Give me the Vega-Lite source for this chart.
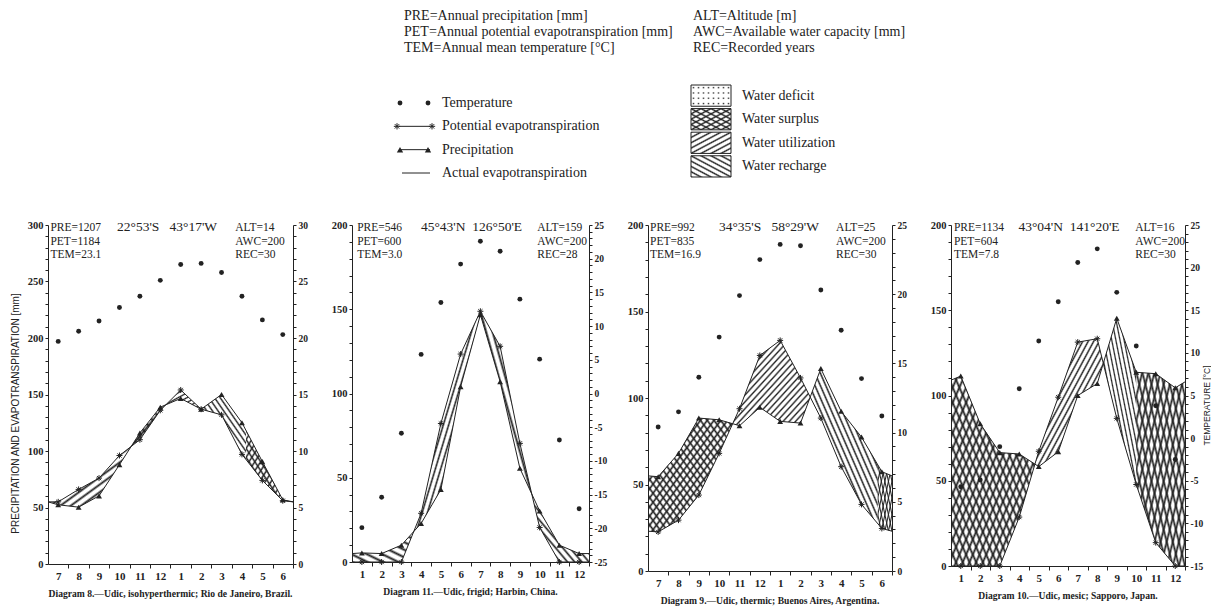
{
"$schema": "https://vega.github.io/schema/vega-lite/v6.json",
"padding": {"left": 9, "top": 0, "right": 0, "bottom": 0},
"background": "white",
"params": [
{"name":"hU8","value":{"gradient":"linear","x1":0,"y1":0,"x2":1,"y2":1,"stops":[{"offset":0,"color":"#222"},{"offset":0.0375,"color":"rgba(34,34,34,0)"},{"offset":0.0875,"color":"rgba(34,34,34,0)"},{"offset":0.125,"color":"#222"},{"offset":0.1625,"color":"rgba(34,34,34,0)"},{"offset":0.2125,"color":"rgba(34,34,34,0)"},{"offset":0.25,"color":"#222"},{"offset":0.2875,"color":"rgba(34,34,34,0)"},{"offset":0.3375,"color":"rgba(34,34,34,0)"},{"offset":0.375,"color":"#222"},{"offset":0.4125,"color":"rgba(34,34,34,0)"},{"offset":0.4625,"color":"rgba(34,34,34,0)"},{"offset":0.5,"color":"#222"},{"offset":0.5375,"color":"rgba(34,34,34,0)"},{"offset":0.5875,"color":"rgba(34,34,34,0)"},{"offset":0.625,"color":"#222"},{"offset":0.6625,"color":"rgba(34,34,34,0)"},{"offset":0.7125,"color":"rgba(34,34,34,0)"},{"offset":0.75,"color":"#222"},{"offset":0.7875,"color":"rgba(34,34,34,0)"},{"offset":0.8375,"color":"rgba(34,34,34,0)"},{"offset":0.875,"color":"#222"},{"offset":0.9125,"color":"rgba(34,34,34,0)"},{"offset":0.9625,"color":"rgba(34,34,34,0)"},{"offset":1,"color":"#222"}]}},
{"name":"hR8","value":{"gradient":"linear","x1":1,"y1":0,"x2":0,"y2":1,"stops":[{"offset":0,"color":"#222"},{"offset":0.0375,"color":"rgba(34,34,34,0)"},{"offset":0.0875,"color":"rgba(34,34,34,0)"},{"offset":0.125,"color":"#222"},{"offset":0.1625,"color":"rgba(34,34,34,0)"},{"offset":0.2125,"color":"rgba(34,34,34,0)"},{"offset":0.25,"color":"#222"},{"offset":0.2875,"color":"rgba(34,34,34,0)"},{"offset":0.3375,"color":"rgba(34,34,34,0)"},{"offset":0.375,"color":"#222"},{"offset":0.4125,"color":"rgba(34,34,34,0)"},{"offset":0.4625,"color":"rgba(34,34,34,0)"},{"offset":0.5,"color":"#222"},{"offset":0.5375,"color":"rgba(34,34,34,0)"},{"offset":0.5875,"color":"rgba(34,34,34,0)"},{"offset":0.625,"color":"#222"},{"offset":0.6625,"color":"rgba(34,34,34,0)"},{"offset":0.7125,"color":"rgba(34,34,34,0)"},{"offset":0.75,"color":"#222"},{"offset":0.7875,"color":"rgba(34,34,34,0)"},{"offset":0.8375,"color":"rgba(34,34,34,0)"},{"offset":0.875,"color":"#222"},{"offset":0.9125,"color":"rgba(34,34,34,0)"},{"offset":0.9625,"color":"rgba(34,34,34,0)"},{"offset":1,"color":"#222"}]}},
{"name":"hU16","value":{"gradient":"linear","x1":0,"y1":0,"x2":1,"y2":1,"stops":[{"offset":0,"color":"#222"},{"offset":0.01875,"color":"rgba(34,34,34,0)"},{"offset":0.04375,"color":"rgba(34,34,34,0)"},{"offset":0.0625,"color":"#222"},{"offset":0.08125,"color":"rgba(34,34,34,0)"},{"offset":0.10625,"color":"rgba(34,34,34,0)"},{"offset":0.125,"color":"#222"},{"offset":0.14375,"color":"rgba(34,34,34,0)"},{"offset":0.16875,"color":"rgba(34,34,34,0)"},{"offset":0.1875,"color":"#222"},{"offset":0.20625,"color":"rgba(34,34,34,0)"},{"offset":0.23125,"color":"rgba(34,34,34,0)"},{"offset":0.25,"color":"#222"},{"offset":0.26875,"color":"rgba(34,34,34,0)"},{"offset":0.29375,"color":"rgba(34,34,34,0)"},{"offset":0.3125,"color":"#222"},{"offset":0.33125,"color":"rgba(34,34,34,0)"},{"offset":0.35625,"color":"rgba(34,34,34,0)"},{"offset":0.375,"color":"#222"},{"offset":0.39375,"color":"rgba(34,34,34,0)"},{"offset":0.41875,"color":"rgba(34,34,34,0)"},{"offset":0.4375,"color":"#222"},{"offset":0.45625,"color":"rgba(34,34,34,0)"},{"offset":0.48125,"color":"rgba(34,34,34,0)"},{"offset":0.5,"color":"#222"},{"offset":0.51875,"color":"rgba(34,34,34,0)"},{"offset":0.54375,"color":"rgba(34,34,34,0)"},{"offset":0.5625,"color":"#222"},{"offset":0.58125,"color":"rgba(34,34,34,0)"},{"offset":0.60625,"color":"rgba(34,34,34,0)"},{"offset":0.625,"color":"#222"},{"offset":0.64375,"color":"rgba(34,34,34,0)"},{"offset":0.66875,"color":"rgba(34,34,34,0)"},{"offset":0.6875,"color":"#222"},{"offset":0.70625,"color":"rgba(34,34,34,0)"},{"offset":0.73125,"color":"rgba(34,34,34,0)"},{"offset":0.75,"color":"#222"},{"offset":0.76875,"color":"rgba(34,34,34,0)"},{"offset":0.79375,"color":"rgba(34,34,34,0)"},{"offset":0.8125,"color":"#222"},{"offset":0.83125,"color":"rgba(34,34,34,0)"},{"offset":0.85625,"color":"rgba(34,34,34,0)"},{"offset":0.875,"color":"#222"},{"offset":0.89375,"color":"rgba(34,34,34,0)"},{"offset":0.91875,"color":"rgba(34,34,34,0)"},{"offset":0.9375,"color":"#222"},{"offset":0.95625,"color":"rgba(34,34,34,0)"},{"offset":0.98125,"color":"rgba(34,34,34,0)"},{"offset":1,"color":"#222"}]}},
{"name":"hR16","value":{"gradient":"linear","x1":1,"y1":0,"x2":0,"y2":1,"stops":[{"offset":0,"color":"#222"},{"offset":0.01875,"color":"rgba(34,34,34,0)"},{"offset":0.04375,"color":"rgba(34,34,34,0)"},{"offset":0.0625,"color":"#222"},{"offset":0.08125,"color":"rgba(34,34,34,0)"},{"offset":0.10625,"color":"rgba(34,34,34,0)"},{"offset":0.125,"color":"#222"},{"offset":0.14375,"color":"rgba(34,34,34,0)"},{"offset":0.16875,"color":"rgba(34,34,34,0)"},{"offset":0.1875,"color":"#222"},{"offset":0.20625,"color":"rgba(34,34,34,0)"},{"offset":0.23125,"color":"rgba(34,34,34,0)"},{"offset":0.25,"color":"#222"},{"offset":0.26875,"color":"rgba(34,34,34,0)"},{"offset":0.29375,"color":"rgba(34,34,34,0)"},{"offset":0.3125,"color":"#222"},{"offset":0.33125,"color":"rgba(34,34,34,0)"},{"offset":0.35625,"color":"rgba(34,34,34,0)"},{"offset":0.375,"color":"#222"},{"offset":0.39375,"color":"rgba(34,34,34,0)"},{"offset":0.41875,"color":"rgba(34,34,34,0)"},{"offset":0.4375,"color":"#222"},{"offset":0.45625,"color":"rgba(34,34,34,0)"},{"offset":0.48125,"color":"rgba(34,34,34,0)"},{"offset":0.5,"color":"#222"},{"offset":0.51875,"color":"rgba(34,34,34,0)"},{"offset":0.54375,"color":"rgba(34,34,34,0)"},{"offset":0.5625,"color":"#222"},{"offset":0.58125,"color":"rgba(34,34,34,0)"},{"offset":0.60625,"color":"rgba(34,34,34,0)"},{"offset":0.625,"color":"#222"},{"offset":0.64375,"color":"rgba(34,34,34,0)"},{"offset":0.66875,"color":"rgba(34,34,34,0)"},{"offset":0.6875,"color":"#222"},{"offset":0.70625,"color":"rgba(34,34,34,0)"},{"offset":0.73125,"color":"rgba(34,34,34,0)"},{"offset":0.75,"color":"#222"},{"offset":0.76875,"color":"rgba(34,34,34,0)"},{"offset":0.79375,"color":"rgba(34,34,34,0)"},{"offset":0.8125,"color":"#222"},{"offset":0.83125,"color":"rgba(34,34,34,0)"},{"offset":0.85625,"color":"rgba(34,34,34,0)"},{"offset":0.875,"color":"#222"},{"offset":0.89375,"color":"rgba(34,34,34,0)"},{"offset":0.91875,"color":"rgba(34,34,34,0)"},{"offset":0.9375,"color":"#222"},{"offset":0.95625,"color":"rgba(34,34,34,0)"},{"offset":0.98125,"color":"rgba(34,34,34,0)"},{"offset":1,"color":"#222"}]}},
{"name":"hU25","value":{"gradient":"linear","x1":0,"y1":0,"x2":1,"y2":1,"stops":[{"offset":0,"color":"#222"},{"offset":0.012,"color":"rgba(34,34,34,0)"},{"offset":0.028,"color":"rgba(34,34,34,0)"},{"offset":0.04,"color":"#222"},{"offset":0.052,"color":"rgba(34,34,34,0)"},{"offset":0.068,"color":"rgba(34,34,34,0)"},{"offset":0.08,"color":"#222"},{"offset":0.092,"color":"rgba(34,34,34,0)"},{"offset":0.108,"color":"rgba(34,34,34,0)"},{"offset":0.12,"color":"#222"},{"offset":0.132,"color":"rgba(34,34,34,0)"},{"offset":0.148,"color":"rgba(34,34,34,0)"},{"offset":0.16,"color":"#222"},{"offset":0.172,"color":"rgba(34,34,34,0)"},{"offset":0.188,"color":"rgba(34,34,34,0)"},{"offset":0.2,"color":"#222"},{"offset":0.212,"color":"rgba(34,34,34,0)"},{"offset":0.228,"color":"rgba(34,34,34,0)"},{"offset":0.24,"color":"#222"},{"offset":0.252,"color":"rgba(34,34,34,0)"},{"offset":0.268,"color":"rgba(34,34,34,0)"},{"offset":0.28,"color":"#222"},{"offset":0.292,"color":"rgba(34,34,34,0)"},{"offset":0.308,"color":"rgba(34,34,34,0)"},{"offset":0.32,"color":"#222"},{"offset":0.332,"color":"rgba(34,34,34,0)"},{"offset":0.348,"color":"rgba(34,34,34,0)"},{"offset":0.36,"color":"#222"},{"offset":0.372,"color":"rgba(34,34,34,0)"},{"offset":0.388,"color":"rgba(34,34,34,0)"},{"offset":0.4,"color":"#222"},{"offset":0.412,"color":"rgba(34,34,34,0)"},{"offset":0.428,"color":"rgba(34,34,34,0)"},{"offset":0.44,"color":"#222"},{"offset":0.452,"color":"rgba(34,34,34,0)"},{"offset":0.468,"color":"rgba(34,34,34,0)"},{"offset":0.48,"color":"#222"},{"offset":0.492,"color":"rgba(34,34,34,0)"},{"offset":0.508,"color":"rgba(34,34,34,0)"},{"offset":0.52,"color":"#222"},{"offset":0.532,"color":"rgba(34,34,34,0)"},{"offset":0.548,"color":"rgba(34,34,34,0)"},{"offset":0.56,"color":"#222"},{"offset":0.572,"color":"rgba(34,34,34,0)"},{"offset":0.588,"color":"rgba(34,34,34,0)"},{"offset":0.6,"color":"#222"},{"offset":0.612,"color":"rgba(34,34,34,0)"},{"offset":0.628,"color":"rgba(34,34,34,0)"},{"offset":0.64,"color":"#222"},{"offset":0.652,"color":"rgba(34,34,34,0)"},{"offset":0.668,"color":"rgba(34,34,34,0)"},{"offset":0.68,"color":"#222"},{"offset":0.692,"color":"rgba(34,34,34,0)"},{"offset":0.708,"color":"rgba(34,34,34,0)"},{"offset":0.72,"color":"#222"},{"offset":0.732,"color":"rgba(34,34,34,0)"},{"offset":0.748,"color":"rgba(34,34,34,0)"},{"offset":0.76,"color":"#222"},{"offset":0.772,"color":"rgba(34,34,34,0)"},{"offset":0.788,"color":"rgba(34,34,34,0)"},{"offset":0.8,"color":"#222"},{"offset":0.812,"color":"rgba(34,34,34,0)"},{"offset":0.828,"color":"rgba(34,34,34,0)"},{"offset":0.84,"color":"#222"},{"offset":0.852,"color":"rgba(34,34,34,0)"},{"offset":0.868,"color":"rgba(34,34,34,0)"},{"offset":0.88,"color":"#222"},{"offset":0.892,"color":"rgba(34,34,34,0)"},{"offset":0.908,"color":"rgba(34,34,34,0)"},{"offset":0.92,"color":"#222"},{"offset":0.932,"color":"rgba(34,34,34,0)"},{"offset":0.948,"color":"rgba(34,34,34,0)"},{"offset":0.96,"color":"#222"},{"offset":0.972,"color":"rgba(34,34,34,0)"},{"offset":0.988,"color":"rgba(34,34,34,0)"},{"offset":1,"color":"#222"}]}},
{"name":"hR25","value":{"gradient":"linear","x1":1,"y1":0,"x2":0,"y2":1,"stops":[{"offset":0,"color":"#222"},{"offset":0.012,"color":"rgba(34,34,34,0)"},{"offset":0.028,"color":"rgba(34,34,34,0)"},{"offset":0.04,"color":"#222"},{"offset":0.052,"color":"rgba(34,34,34,0)"},{"offset":0.068,"color":"rgba(34,34,34,0)"},{"offset":0.08,"color":"#222"},{"offset":0.092,"color":"rgba(34,34,34,0)"},{"offset":0.108,"color":"rgba(34,34,34,0)"},{"offset":0.12,"color":"#222"},{"offset":0.132,"color":"rgba(34,34,34,0)"},{"offset":0.148,"color":"rgba(34,34,34,0)"},{"offset":0.16,"color":"#222"},{"offset":0.172,"color":"rgba(34,34,34,0)"},{"offset":0.188,"color":"rgba(34,34,34,0)"},{"offset":0.2,"color":"#222"},{"offset":0.212,"color":"rgba(34,34,34,0)"},{"offset":0.228,"color":"rgba(34,34,34,0)"},{"offset":0.24,"color":"#222"},{"offset":0.252,"color":"rgba(34,34,34,0)"},{"offset":0.268,"color":"rgba(34,34,34,0)"},{"offset":0.28,"color":"#222"},{"offset":0.292,"color":"rgba(34,34,34,0)"},{"offset":0.308,"color":"rgba(34,34,34,0)"},{"offset":0.32,"color":"#222"},{"offset":0.332,"color":"rgba(34,34,34,0)"},{"offset":0.348,"color":"rgba(34,34,34,0)"},{"offset":0.36,"color":"#222"},{"offset":0.372,"color":"rgba(34,34,34,0)"},{"offset":0.388,"color":"rgba(34,34,34,0)"},{"offset":0.4,"color":"#222"},{"offset":0.412,"color":"rgba(34,34,34,0)"},{"offset":0.428,"color":"rgba(34,34,34,0)"},{"offset":0.44,"color":"#222"},{"offset":0.452,"color":"rgba(34,34,34,0)"},{"offset":0.468,"color":"rgba(34,34,34,0)"},{"offset":0.48,"color":"#222"},{"offset":0.492,"color":"rgba(34,34,34,0)"},{"offset":0.508,"color":"rgba(34,34,34,0)"},{"offset":0.52,"color":"#222"},{"offset":0.532,"color":"rgba(34,34,34,0)"},{"offset":0.548,"color":"rgba(34,34,34,0)"},{"offset":0.56,"color":"#222"},{"offset":0.572,"color":"rgba(34,34,34,0)"},{"offset":0.588,"color":"rgba(34,34,34,0)"},{"offset":0.6,"color":"#222"},{"offset":0.612,"color":"rgba(34,34,34,0)"},{"offset":0.628,"color":"rgba(34,34,34,0)"},{"offset":0.64,"color":"#222"},{"offset":0.652,"color":"rgba(34,34,34,0)"},{"offset":0.668,"color":"rgba(34,34,34,0)"},{"offset":0.68,"color":"#222"},{"offset":0.692,"color":"rgba(34,34,34,0)"},{"offset":0.708,"color":"rgba(34,34,34,0)"},{"offset":0.72,"color":"#222"},{"offset":0.732,"color":"rgba(34,34,34,0)"},{"offset":0.748,"color":"rgba(34,34,34,0)"},{"offset":0.76,"color":"#222"},{"offset":0.772,"color":"rgba(34,34,34,0)"},{"offset":0.788,"color":"rgba(34,34,34,0)"},{"offset":0.8,"color":"#222"},{"offset":0.812,"color":"rgba(34,34,34,0)"},{"offset":0.828,"color":"rgba(34,34,34,0)"},{"offset":0.84,"color":"#222"},{"offset":0.852,"color":"rgba(34,34,34,0)"},{"offset":0.868,"color":"rgba(34,34,34,0)"},{"offset":0.88,"color":"#222"},{"offset":0.892,"color":"rgba(34,34,34,0)"},{"offset":0.908,"color":"rgba(34,34,34,0)"},{"offset":0.92,"color":"#222"},{"offset":0.932,"color":"rgba(34,34,34,0)"},{"offset":0.948,"color":"rgba(34,34,34,0)"},{"offset":0.96,"color":"#222"},{"offset":0.972,"color":"rgba(34,34,34,0)"},{"offset":0.988,"color":"rgba(34,34,34,0)"},{"offset":1,"color":"#222"}]}},
{"name":"dH","value":{"gradient":"linear","x1":0,"y1":0,"x2":0,"y2":1,"stops":[{"offset":0,"color":"#fff"},{"offset":0.065,"color":"#fff"},{"offset":0.125,"color":"rgba(255,255,255,0)"},{"offset":0.185,"color":"#fff"},{"offset":0.315,"color":"#fff"},{"offset":0.375,"color":"rgba(255,255,255,0)"},{"offset":0.435,"color":"#fff"},{"offset":0.565,"color":"#fff"},{"offset":0.625,"color":"rgba(255,255,255,0)"},{"offset":0.685,"color":"#fff"},{"offset":0.815,"color":"#fff"},{"offset":0.875,"color":"rgba(255,255,255,0)"},{"offset":0.935,"color":"#fff"},{"offset":1,"color":"#fff"}]}},
{"name":"dV","value":{"gradient":"linear","x1":0,"y1":0,"x2":1,"y2":0,"stops":[{"offset":0,"color":"#fff"},{"offset":0.0275,"color":"#fff"},{"offset":0.0625,"color":"rgba(255,255,255,0)"},{"offset":0.0975,"color":"#fff"},{"offset":0.1525,"color":"#fff"},{"offset":0.1875,"color":"rgba(255,255,255,0)"},{"offset":0.2225,"color":"#fff"},{"offset":0.2775,"color":"#fff"},{"offset":0.3125,"color":"rgba(255,255,255,0)"},{"offset":0.3475,"color":"#fff"},{"offset":0.4025,"color":"#fff"},{"offset":0.4375,"color":"rgba(255,255,255,0)"},{"offset":0.4725,"color":"#fff"},{"offset":0.5275,"color":"#fff"},{"offset":0.5625,"color":"rgba(255,255,255,0)"},{"offset":0.5975,"color":"#fff"},{"offset":0.6525,"color":"#fff"},{"offset":0.6875,"color":"rgba(255,255,255,0)"},{"offset":0.7225,"color":"#fff"},{"offset":0.7775,"color":"#fff"},{"offset":0.8125,"color":"rgba(255,255,255,0)"},{"offset":0.8475,"color":"#fff"},{"offset":0.9025,"color":"#fff"},{"offset":0.9375,"color":"rgba(255,255,255,0)"},{"offset":0.9725,"color":"#fff"},{"offset":1,"color":"#fff"}]}}
],
"datasets": {
"clim": [
{"st":"rio","i":0.5,"pre":55,"pet":55},
{"st":"rio","i":1,"pre":52.4,"pet":55,"tem":19.7},
{"st":"rio","i":2,"pre":50.3,"pet":66,"tem":20.6},
{"st":"rio","i":3,"pre":60.3,"pet":76,"tem":21.5},
{"st":"rio","i":4,"pre":87.9,"pet":96,"tem":22.7},
{"st":"rio","i":5,"pre":116,"pet":110,"tem":23.7},
{"st":"rio","i":6,"pre":138.8,"pet":136,"tem":25.1},
{"st":"rio","i":7,"pre":146.5,"pet":154,"tem":26.5},
{"st":"rio","i":8,"pre":137,"pet":137,"tem":26.6},
{"st":"rio","i":9,"pre":150,"pet":132,"tem":25.8},
{"st":"rio","i":10,"pre":125,"pet":97,"tem":23.7},
{"st":"rio","i":11,"pre":90.6,"pet":74,"tem":21.6},
{"st":"rio","i":12,"pre":56.8,"pet":56,"tem":20.3},
{"st":"rio","i":12.5,"pre":55,"pet":55},
{"st":"har","i":0.5,"pre":5,"pet":0},
{"st":"har","i":1,"pre":5.4,"pet":0,"tem":-19.9},
{"st":"har","i":2,"pre":5,"pet":0,"tem":-15.4},
{"st":"har","i":3,"pre":10,"pet":0,"tem":-5.9},
{"st":"har","i":4,"pre":22.9,"pet":28.9,"tem":5.8},
{"st":"har","i":5,"pre":43,"pet":82.2,"tem":13.5},
{"st":"har","i":6,"pre":104,"pet":123.4,"tem":19.2},
{"st":"har","i":7,"pre":146.8,"pet":148.8,"tem":22.6},
{"st":"har","i":8,"pre":107,"pet":128,"tem":21.1},
{"st":"har","i":9,"pre":55.6,"pet":70.4,"tem":14.0},
{"st":"har","i":10,"pre":30.3,"pet":20.5,"tem":5.1},
{"st":"har","i":11,"pre":10,"pet":0,"tem":-6.9},
{"st":"har","i":12,"pre":5,"pet":0,"tem":-17.1},
{"st":"har","i":12.5,"pre":5,"pet":0},
{"st":"ba","i":0.5,"pre":55,"pet":23},
{"st":"ba","i":1,"pre":54.5,"pet":22.6,"tem":10.4},
{"st":"ba","i":2,"pre":68,"pet":29.4,"tem":11.5},
{"st":"ba","i":3,"pre":88.4,"pet":43.9,"tem":14.0},
{"st":"ba","i":4,"pre":87.4,"pet":68,"tem":16.9},
{"st":"ba","i":5,"pre":84,"pet":93.8,"tem":19.9},
{"st":"ba","i":6,"pre":94.6,"pet":124.6,"tem":22.5},
{"st":"ba","i":7,"pre":86.5,"pet":133.3,"tem":23.6},
{"st":"ba","i":8,"pre":85.5,"pet":111.6,"tem":23.5},
{"st":"ba","i":9,"pre":117,"pet":88.4,"tem":20.3},
{"st":"ba","i":10,"pre":92.3,"pet":60.3,"tem":17.4},
{"st":"ba","i":11,"pre":77.4,"pet":38.5,"tem":13.9},
{"st":"ba","i":12,"pre":57.4,"pet":24.6,"tem":11.2},
{"st":"ba","i":12.5,"pre":55,"pet":23},
{"st":"sap","i":0.5,"pre":109,"pet":0},
{"st":"sap","i":1,"pre":111.4,"pet":0,"tem":-5.7},
{"st":"sap","i":2,"pre":83.4,"pet":0,"tem":-4.9},
{"st":"sap","i":3,"pre":66.5,"pet":0,"tem":-1.0},
{"st":"sap","i":4,"pre":65.7,"pet":28.7,"tem":5.8},
{"st":"sap","i":5,"pre":58.3,"pet":67.3,"tem":11.4},
{"st":"sap","i":6,"pre":67,"pet":99,"tem":16.0},
{"st":"sap","i":7,"pre":100,"pet":131.3,"tem":20.6},
{"st":"sap","i":8,"pre":107,"pet":133.3,"tem":22.2},
{"st":"sap","i":9,"pre":145.3,"pet":86.6,"tem":17.1},
{"st":"sap","i":10,"pre":113.6,"pet":47.8,"tem":10.8},
{"st":"sap","i":11,"pre":112.8,"pet":13.7,"tem":3.8},
{"st":"sap","i":12,"pre":104.5,"pet":0,"tem":-2.5},
{"st":"sap","i":12.5,"pre":108,"pet":0}
],
"reg": [
{"r":"rA","i":0.5,"up":55,"lo":55},{"r":"rA","i":1,"up":55,"lo":52.4},{"r":"rA","i":2,"up":66,"lo":50.3},{"r":"rA","i":3,"up":76,"lo":60.3},{"r":"rA","i":4,"up":96,"lo":87.9},{"r":"rA","i":4.57,"up":104,"lo":104},
{"r":"rB","i":4.57,"up":104,"lo":104},{"r":"rB","i":5,"up":116,"lo":110},{"r":"rB","i":6,"up":138.8,"lo":136},{"r":"rB","i":6.27,"up":140.9,"lo":140.9},
{"r":"rC","i":6.27,"up":140.9,"lo":140.9},{"r":"rC","i":7,"up":154,"lo":146.5},{"r":"rC","i":8,"up":137,"lo":137},
{"r":"rD","i":8,"up":137,"lo":137},{"r":"rD","i":9,"up":150,"lo":132},{"r":"rD","i":10,"up":125,"lo":97},{"r":"rD","i":10.2,"up":118.1,"lo":92.4},
{"r":"rE","i":10.2,"up":118.1,"lo":92.4},{"r":"rE","i":11,"up":90.6,"lo":74},{"r":"rE","i":12,"up":56.8,"lo":56},{"r":"rE","i":12.5,"up":55,"lo":55},
{"r":"h1","i":0.5,"up":5,"lo":0},{"r":"h1","i":1,"up":5.4,"lo":0},{"r":"h1","i":2,"up":5,"lo":0},{"r":"h1","i":3,"up":10,"lo":0},{"r":"h1","i":3.625,"up":18,"lo":18},
{"r":"h2","i":3.625,"up":18,"lo":18},{"r":"h2","i":4,"up":28.9,"lo":22.9},{"r":"h2","i":5,"up":82.2,"lo":43},{"r":"h2","i":6,"up":123.4,"lo":104},{"r":"h2","i":7,"up":148.8,"lo":146.8},
{"r":"h3","i":7,"up":148.8,"lo":146.8},{"r":"h3","i":8,"up":128,"lo":107},{"r":"h3","i":9,"up":70.4,"lo":55.6},{"r":"h3","i":9.6,"up":40.4,"lo":40.4},
{"r":"h4","i":9.6,"up":40.4,"lo":40.4},{"r":"h4","i":10,"up":30.3,"lo":20.5},{"r":"h4","i":11,"up":10,"lo":0},{"r":"h4","i":12,"up":5,"lo":0},{"r":"h4","i":12.5,"up":5,"lo":0},
{"r":"b1","i":0.5,"up":55,"lo":23},{"r":"b1","i":1,"up":54.5,"lo":22.6},{"r":"b1","i":2,"up":68,"lo":29.4},{"r":"b1","i":3,"up":88.4,"lo":43.9},{"r":"b1","i":4,"up":87.4,"lo":68},{"r":"b1","i":4.66,"up":85.2,"lo":85.2},
{"r":"b2","i":4.66,"up":85.2,"lo":85.2},{"r":"b2","i":5,"up":93.8,"lo":84},{"r":"b2","i":6,"up":124.6,"lo":94.6},{"r":"b2","i":7,"up":133.3,"lo":86.5},{"r":"b2","i":8,"up":111.6,"lo":85.5},{"r":"b2","i":8.48,"up":100.5,"lo":100.5},
{"r":"b3","i":8.48,"up":100.5,"lo":100.5},{"r":"b3","i":9,"up":117,"lo":88.4},{"r":"b3","i":10,"up":92.3,"lo":60.3},{"r":"b3","i":11,"up":77.4,"lo":38.5},{"r":"b3","i":11.8,"up":61.4,"lo":27.4},
{"r":"b4","i":11.8,"up":61.4,"lo":27.4},{"r":"b4","i":12,"up":57.4,"lo":24.6},{"r":"b4","i":12.5,"up":55,"lo":23},
{"r":"s1","i":0.5,"up":109,"lo":0},{"r":"s1","i":1,"up":111.4,"lo":0},{"r":"s1","i":2,"up":83.4,"lo":0},{"r":"s1","i":3,"up":66.5,"lo":0},{"r":"s1","i":4,"up":65.7,"lo":28.7},{"r":"s1","i":4.8,"up":59.8,"lo":59.8},
{"r":"s2","i":4.8,"up":59.8,"lo":59.8},{"r":"s2","i":5,"up":67.3,"lo":58.3},{"r":"s2","i":6,"up":99,"lo":67},{"r":"s2","i":7,"up":131.3,"lo":100},{"r":"s2","i":8,"up":133.3,"lo":107},{"r":"s2","i":8.31,"up":119,"lo":119},
{"r":"s3","i":8.31,"up":119,"lo":119},{"r":"s3","i":9,"up":145.3,"lo":86.6},{"r":"s3","i":10,"up":113.6,"lo":47.8},
{"r":"s4","i":10,"up":113.6,"lo":47.8},{"r":"s4","i":11,"up":112.8,"lo":13.7},{"r":"s4","i":12,"up":104.5,"lo":0},{"r":"s4","i":12.5,"up":108,"lo":0}
],
"stn": [
{"st":"rio","left":"PRE=1207\nPET=1184\nTEM=23.1","coord":"22°53'S\u00a0\u00a0\u00a043°17'W","right":"ALT=14\nAWC=200\nREC=30"},
{"st":"har","left":"PRE=546\nPET=600\nTEM=3.0","coord":"45°43'N\u00a0\u00a0126°50'E","right":"ALT=159\nAWC=200\nREC=28"},
{"st":"ba","left":"PRE=992\nPET=835\nTEM=16.9","coord":"34°35'S\u00a0\u00a0\u00a058°29'W","right":"ALT=25\nAWC=200\nREC=30"},
{"st":"sap","left":"PRE=1134\nPET=604\nTEM=7.8","coord":"43°04'N\u00a0\u00a0141°20'E","right":"ALT=16\nAWC=200\nREC=30"}
],
"hdr": [
{"sec":"def","col":1,"line":1,"text":"PRE=Annual precipitation [mm]"},
{"sec":"def","col":1,"line":2,"text":"PET=Annual potential evapotranspiration [mm]"},
{"sec":"def","col":1,"line":3,"text":"TEM=Annual mean temperature [°C]"},
{"sec":"def","col":2,"line":1,"text":"ALT=Altitude [m]"},
{"sec":"def","col":2,"line":2,"text":"AWC=Available water capacity [mm]"},
{"sec":"def","col":2,"line":3,"text":"REC=Recorded years"},
{"sec":"sym","line":1,"text":"Temperature","key":"tem"},
{"sec":"sym","line":2,"text":"Potential evapotranspiration","key":"pet"},
{"sec":"sym","line":3,"text":"Precipitation","key":"pre"},
{"sec":"sym","line":4,"text":"Actual evapotranspiration","key":"aet"},
{"sec":"box","line":1,"text":"Water deficit","key":"deficit"},
{"sec":"box","line":2,"text":"Water surplus","key":"surplus"},
{"sec":"box","line":3,"text":"Water utilization","key":"util"},
{"sec":"box","line":4,"text":"Water recharge","key":"recharge"}
]
},
"bounds": "flush",
"spacing": 35,
"vconcat": [
{
"width": 1139, "height": 190,
"data": {"name": "hdr"},
"resolve": {"scale": {"y": "independent"}},
"layer": [
{"transform":[{"filter":"datum.sec=='def' && datum.col==1"}],"mark":{"type":"text","align":"left","baseline":"middle","fontSize":14},"encoding":{"x":{"datum":404,"type":"quantitative","scale":{"domain":[48,1187],"range":[0,1139],"zero":false,"nice":false},"axis":null},"y":{"field":"line","type":"quantitative","scale":{"domain":[1,3],"range":[16,48],"zero":false,"nice":false},"axis":null},"text":{"field":"text"}}},
{"transform":[{"filter":"datum.sec=='def' && datum.col==2"}],"mark":{"type":"text","align":"left","baseline":"middle","fontSize":14},"encoding":{"x":{"datum":693,"type":"quantitative","scale":{"domain":[48,1187],"range":[0,1139],"zero":false,"nice":false},"axis":null},"y":{"field":"line","type":"quantitative","scale":{"domain":[1,3],"range":[16,48],"zero":false,"nice":false},"axis":null},"text":{"field":"text"}}},
{"transform":[{"filter":"datum.sec=='sym'"}],"mark":{"type":"text","align":"left","baseline":"middle","fontSize":14},"encoding":{"x":{"datum":442,"type":"quantitative","scale":{"domain":[48,1187],"range":[0,1139],"zero":false,"nice":false},"axis":null},"y":{"field":"line","type":"quantitative","scale":{"domain":[1,4],"range":[103,173],"zero":false,"nice":false},"axis":null},"text":{"field":"text"}}},
{"transform":[{"filter":"datum.key=='tem'"}],"mark":{"type":"point","shape":"circle","filled":true,"size":24,"color":"#222","opacity":1},"encoding":{"x":{"datum":400,"type":"quantitative","scale":{"domain":[48,1187],"range":[0,1139],"zero":false,"nice":false},"axis":null},"y":{"field":"line","type":"quantitative","scale":{"domain":[1,4],"range":[103,173],"zero":false,"nice":false},"axis":null}}},
{"transform":[{"filter":"datum.key=='tem'"}],"mark":{"type":"point","shape":"circle","filled":true,"size":24,"color":"#222","opacity":1},"encoding":{"x":{"datum":428,"type":"quantitative","scale":{"domain":[48,1187],"range":[0,1139],"zero":false,"nice":false},"axis":null},"y":{"field":"line","type":"quantitative","scale":{"domain":[1,4],"range":[103,173],"zero":false,"nice":false},"axis":null}}},
{"transform":[{"filter":"datum.key=='pet' || datum.key=='pre'"}],"mark":{"type":"rule","color":"#222","strokeWidth":1},"encoding":{"x":{"datum":399,"type":"quantitative","scale":{"domain":[48,1187],"range":[0,1139],"zero":false,"nice":false},"axis":null},"x2":{"datum":430},"y":{"field":"line","type":"quantitative","scale":{"domain":[1,4],"range":[103,173],"zero":false,"nice":false},"axis":null}}},
{"transform":[{"filter":"datum.key=='aet'"}],"mark":{"type":"rule","color":"#222","strokeWidth":1},"encoding":{"x":{"datum":402,"type":"quantitative","scale":{"domain":[48,1187],"range":[0,1139],"zero":false,"nice":false},"axis":null},"x2":{"datum":430},"y":{"field":"line","type":"quantitative","scale":{"domain":[1,4],"range":[103,173],"zero":false,"nice":false},"axis":null}}},
{"transform":[{"filter":"datum.key=='pet'"}],"mark":{"type":"point","shape":"M-1,0L1,0M0,-1L0,1M-0.7,-0.7L0.7,0.7M-0.7,0.7L0.7,-0.7","filled":false,"size":40,"color":"#222","strokeWidth":1,"opacity":1},"encoding":{"x":{"datum":397,"type":"quantitative","scale":{"domain":[48,1187],"range":[0,1139],"zero":false,"nice":false},"axis":null},"y":{"field":"line","type":"quantitative","scale":{"domain":[1,4],"range":[103,173],"zero":false,"nice":false},"axis":null}}},
{"transform":[{"filter":"datum.key=='pet'"}],"mark":{"type":"point","shape":"M-1,0L1,0M0,-1L0,1M-0.7,-0.7L0.7,0.7M-0.7,0.7L0.7,-0.7","filled":false,"size":40,"color":"#222","strokeWidth":1,"opacity":1},"encoding":{"x":{"datum":432,"type":"quantitative","scale":{"domain":[48,1187],"range":[0,1139],"zero":false,"nice":false},"axis":null},"y":{"field":"line","type":"quantitative","scale":{"domain":[1,4],"range":[103,173],"zero":false,"nice":false},"axis":null}}},
{"transform":[{"filter":"datum.key=='pre'"}],"mark":{"type":"point","shape":"triangle-up","filled":true,"size":40,"color":"#222","opacity":1},"encoding":{"x":{"datum":400,"type":"quantitative","scale":{"domain":[48,1187],"range":[0,1139],"zero":false,"nice":false},"axis":null},"y":{"field":"line","type":"quantitative","scale":{"domain":[1,4],"range":[103,173],"zero":false,"nice":false},"axis":null}}},
{"transform":[{"filter":"datum.key=='pre'"}],"mark":{"type":"point","shape":"triangle-up","filled":true,"size":40,"color":"#222","opacity":1},"encoding":{"x":{"datum":428,"type":"quantitative","scale":{"domain":[48,1187],"range":[0,1139],"zero":false,"nice":false},"axis":null},"y":{"field":"line","type":"quantitative","scale":{"domain":[1,4],"range":[103,173],"zero":false,"nice":false},"axis":null}}},
{"transform":[{"filter":"datum.key=='deficit'"}],"mark":{"type":"rect","fill":"#333"},"encoding":{"x":{"datum":691,"type":"quantitative","scale":{"domain":[48,1187],"range":[0,1139],"zero":false,"nice":false},"axis":null},"x2":{"datum":731},"y":{"field":"line","type":"ordinal","scale":{"domain":[1,2,3,4],"range":[85,177],"paddingInner":0.1,"paddingOuter":0},"axis":null}}},
{"transform":[{"filter":"datum.key=='deficit'"}],"mark":{"type":"rect","fill":{"expr":"dH"}},"encoding":{"x":{"datum":691,"type":"quantitative","scale":{"domain":[48,1187],"range":[0,1139],"zero":false,"nice":false},"axis":null},"x2":{"datum":731},"y":{"field":"line","type":"ordinal","scale":{"domain":[1,2,3,4],"range":[85,177],"paddingInner":0.1,"paddingOuter":0},"axis":null}}},
{"transform":[{"filter":"datum.key=='deficit'"}],"mark":{"type":"rect","fill":{"expr":"dV"}},"encoding":{"x":{"datum":691,"type":"quantitative","scale":{"domain":[48,1187],"range":[0,1139],"zero":false,"nice":false},"axis":null},"x2":{"datum":731},"y":{"field":"line","type":"ordinal","scale":{"domain":[1,2,3,4],"range":[85,177],"paddingInner":0.1,"paddingOuter":0},"axis":null}}},
{"transform":[{"filter":"datum.key=='surplus' || datum.key=='util'"}],"mark":{"type":"rect","fill":{"expr":"hU8"}},"encoding":{"x":{"datum":691,"type":"quantitative","scale":{"domain":[48,1187],"range":[0,1139],"zero":false,"nice":false},"axis":null},"x2":{"datum":731},"y":{"field":"line","type":"ordinal","scale":{"domain":[1,2,3,4],"range":[85,177],"paddingInner":0.1,"paddingOuter":0},"axis":null}}},
{"transform":[{"filter":"datum.key=='surplus' || datum.key=='recharge'"}],"mark":{"type":"rect","fill":{"expr":"hR8"}},"encoding":{"x":{"datum":691,"type":"quantitative","scale":{"domain":[48,1187],"range":[0,1139],"zero":false,"nice":false},"axis":null},"x2":{"datum":731},"y":{"field":"line","type":"ordinal","scale":{"domain":[1,2,3,4],"range":[85,177],"paddingInner":0.1,"paddingOuter":0},"axis":null}}},
{"transform":[{"filter":"datum.sec=='box'"}],"mark":{"type":"rect","filled":false,"stroke":"#222","strokeWidth":1},"encoding":{"x":{"datum":691,"type":"quantitative","scale":{"domain":[48,1187],"range":[0,1139],"zero":false,"nice":false},"axis":null},"x2":{"datum":731},"y":{"field":"line","type":"ordinal","scale":{"domain":[1,2,3,4],"range":[85,177],"paddingInner":0.1,"paddingOuter":0},"axis":null}}},
{"transform":[{"filter":"datum.sec=='box'"}],"mark":{"type":"text","align":"left","baseline":"middle","fontSize":14},"encoding":{"x":{"datum":742,"type":"quantitative","scale":{"domain":[48,1187],"range":[0,1139],"zero":false,"nice":false},"axis":null},"y":{"field":"line","type":"quantitative","scale":{"domain":[1,4],"range":[95.6,166.4],"zero":false,"nice":false},"axis":null},"text":{"field":"text"}}}
]
},
{
"hconcat": [
{
"width": 245, "height": 339,
"title": {"text": "Diagram 8.—Udic, isohyperthermic; Rio de Janeiro, Brazil.", "orient": "bottom", "offset": 8},
"resolve": {"scale": {"x": "independent", "y": "independent"}},
"layer": [
{"resolve": {"scale": {"x": "independent", "y": "independent"}}, "layer": [
{"data":{"name":"reg"},"transform":[{"filter":"indexof(['rA','rE'], datum.r) >= 0"}],"mark":{"type":"area","fill":{"expr":"hU16"},"opacity":1},"encoding":{"x":{"field":"i","type":"quantitative","scale":{"domain":[0.5,12.5],"nice":false,"zero":false},"axis":{"values":[1,2,3,4,5,6,7,8,9,10,11,12],"tickOffset":10.2,"labelOffset":-10.2,"labelExpr":"'' + ((datum.value + 5) % 12 + 1)","title":null}},"y":{"field":"up","type":"quantitative","scale":{"domain":[0,300],"nice":false,"zero":false},"axis":{"orient":"left","values":[0,10,20,30,40,50,60,70,80,90,100,110,120,130,140,150,160,170,180,190,200,210,220,230,240,250,260,270,280,290,300],"labelExpr":"datum.value % 50 == 0 ? '' + datum.value : ''","labelOverlap":false,"title":"PRECIPITATION AND EVAPOTRANSPIRATION [mm]","titleFont":"Liberation Sans","titleFontSize":10,"titleFontWeight":"normal","titleX":-33,"titleY":188,"titleAngle":270,"titleAlign":"center","titleBaseline":"middle"}},"y2":{"field":"lo"},"detail":{"field":"r"}}},
{"data":{"name":"reg"},"transform":[{"filter":"indexof(['rD','rE'], datum.r) >= 0"}],"mark":{"type":"area","fill":{"expr":"hR16"},"opacity":1},"encoding":{"x":{"field":"i","type":"quantitative","scale":{"domain":[0.5,12.5],"nice":false,"zero":false},"axis":null},"y":{"field":"up","type":"quantitative","scale":{"domain":[0,300],"nice":false,"zero":false},"axis":null},"y2":{"field":"lo"},"detail":{"field":"r"}}},
{"data":{"name":"reg"},"transform":[{"filter":"indexof(['rB','rC'], datum.r) >= 0"}],"mark":{"type":"area","fill":{"expr":"hU8"},"opacity":1},"encoding":{"x":{"field":"i","type":"quantitative","scale":{"domain":[0.5,12.5],"nice":false,"zero":false},"axis":null},"y":{"field":"up","type":"quantitative","scale":{"domain":[0,300],"nice":false,"zero":false},"axis":null},"y2":{"field":"lo"},"detail":{"field":"r"}}},
{"data":{"name":"reg"},"transform":[{"filter":"indexof(['rB'], datum.r) >= 0"}],"mark":{"type":"area","fill":{"expr":"hR8"},"opacity":1},"encoding":{"x":{"field":"i","type":"quantitative","scale":{"domain":[0.5,12.5],"nice":false,"zero":false},"axis":null},"y":{"field":"up","type":"quantitative","scale":{"domain":[0,300],"nice":false,"zero":false},"axis":null},"y2":{"field":"lo"},"detail":{"field":"r"}}},
{"data":{"name":"clim"},"transform":[{"filter":"datum.st=='rio'"}],"mark":{"type":"line","color":"#222","strokeWidth":1},"encoding":{"x":{"field":"i","type":"quantitative","scale":{"domain":[0.5,12.5],"nice":false,"zero":false},"axis":null},"y":{"field":"pre","type":"quantitative","scale":{"domain":[0,300],"nice":false,"zero":false},"axis":null}}},
{"data":{"name":"clim"},"transform":[{"filter":"datum.st=='rio'"}],"mark":{"type":"line","color":"#222","strokeWidth":1},"encoding":{"x":{"field":"i","type":"quantitative","scale":{"domain":[0.5,12.5],"nice":false,"zero":false},"axis":null},"y":{"field":"pet","type":"quantitative","scale":{"domain":[0,300],"nice":false,"zero":false},"axis":null}}},
{"data":{"name":"clim"},"transform":[{"filter":"datum.st=='rio' && datum.tem != null"}],"mark":{"type":"point","shape":"triangle-up","filled":true,"size":34,"color":"#222","opacity":1},"encoding":{"x":{"field":"i","type":"quantitative","scale":{"domain":[0.5,12.5],"nice":false,"zero":false},"axis":null},"y":{"field":"pre","type":"quantitative","scale":{"domain":[0,300],"nice":false,"zero":false},"axis":null}}},
{"data":{"name":"clim"},"transform":[{"filter":"datum.st=='rio' && datum.tem != null"}],"mark":{"type":"point","shape":"M-1,0L1,0M0,-1L0,1M-0.7,-0.7L0.7,0.7M-0.7,0.7L0.7,-0.7","filled":false,"size":36,"color":"#222","strokeWidth":1,"opacity":1},"encoding":{"x":{"field":"i","type":"quantitative","scale":{"domain":[0.5,12.5],"nice":false,"zero":false},"axis":null},"y":{"field":"pet","type":"quantitative","scale":{"domain":[0,300],"nice":false,"zero":false},"axis":null}}}
]},
{"data":{"name":"clim"},"transform":[{"filter":"datum.st=='rio' && datum.tem != null"}],"mark":{"type":"point","shape":"circle","filled":true,"size":24,"color":"#222","opacity":1},"encoding":{"x":{"field":"i","type":"quantitative","scale":{"domain":[0.5,12.5],"nice":false,"zero":false},"axis":null},"y":{"field":"tem","type":"quantitative","scale":{"domain":[0,30],"nice":false,"zero":false},"axis":{"orient":"right","values":[0,1,2,3,4,5,6,7,8,9,10,11,12,13,14,15,16,17,18,19,20,21,22,23,24,25,26,27,28,29,30],"labelExpr":"datum.value % 5 == 0 ? '' + datum.value : ''","labelOverlap":false,"labelFontSize":9.5,"title":null}}}},
{"data":{"name":"stn"},"transform":[{"filter":"datum.st=='rio'"}],"layer":[
{"mark":{"type":"text","align":"left","baseline":"top","fontSize":11.5,"lineHeight":13.5,"lineBreak":"\n"},"encoding":{"x":{"datum":0.62,"type":"quantitative","scale":{"domain":[0.5,12.5],"nice":false,"zero":false},"axis":null},"y":{"datum":1.008,"type":"quantitative","scale":{"domain":[0,1],"nice":false,"zero":false},"axis":null},"text":{"field":"left"}}},
{"mark":{"type":"text","align":"center","baseline":"top","fontSize":13.5},"encoding":{"x":{"datum":6.33,"type":"quantitative","scale":{"domain":[0.5,12.5],"nice":false,"zero":false},"axis":null},"y":{"datum":1.015,"type":"quantitative","scale":{"domain":[0,1],"nice":false,"zero":false},"axis":null},"text":{"field":"coord"}}},
{"mark":{"type":"text","align":"left","baseline":"top","fontSize":11.5,"lineHeight":13.5,"lineBreak":"\n"},"encoding":{"x":{"datum":9.67,"type":"quantitative","scale":{"domain":[0.5,12.5],"nice":false,"zero":false},"axis":null},"y":{"datum":1.008,"type":"quantitative","scale":{"domain":[0,1],"nice":false,"zero":false},"axis":null},"text":{"field":"right"}}}
]}
]
},
{
"width": 237, "height": 337,
"title": {"text": "Diagram 11.—Udic, frigid; Harbin, China.", "orient": "bottom", "offset": 8},
"resolve": {"scale": {"x": "independent", "y": "independent"}},
"layer": [
{"resolve": {"scale": {"x": "independent", "y": "independent"}}, "layer": [
{"data":{"name":"reg"},"transform":[{"filter":"indexof(['h1'], datum.r) >= 0"}],"mark":{"type":"area","fill":{"expr":"hR8"},"opacity":1},"encoding":{"x":{"field":"i","type":"quantitative","scale":{"domain":[0.5,12.5],"nice":false,"zero":false},"axis":{"values":[1,2,3,4,5,6,7,8,9,10,11,12],"tickOffset":9.9,"labelOffset":-9.9,"labelExpr":"'' + datum.value","title":null}},"y":{"field":"up","type":"quantitative","scale":{"domain":[0,200],"nice":false,"zero":false},"axis":{"orient":"left","values":[0,10,20,30,40,50,60,70,80,90,100,110,120,130,140,150,160,170,180,190,200],"labelExpr":"datum.value % 50 == 0 ? '' + datum.value : ''","labelOverlap":false,"title":null}},"y2":{"field":"lo"},"detail":{"field":"r"}}},
{"data":{"name":"reg"},"transform":[{"filter":"indexof(['h2'], datum.r) >= 0"}],"mark":{"type":"area","fill":{"expr":"hU25"},"opacity":1},"encoding":{"x":{"field":"i","type":"quantitative","scale":{"domain":[0.5,12.5],"nice":false,"zero":false},"axis":null},"y":{"field":"up","type":"quantitative","scale":{"domain":[0,200],"nice":false,"zero":false},"axis":null},"y2":{"field":"lo"},"detail":{"field":"r"}}},
{"data":{"name":"reg"},"transform":[{"filter":"indexof(['h3','h4'], datum.r) >= 0"}],"mark":{"type":"area","fill":{"expr":"hR16"},"opacity":1},"encoding":{"x":{"field":"i","type":"quantitative","scale":{"domain":[0.5,12.5],"nice":false,"zero":false},"axis":null},"y":{"field":"up","type":"quantitative","scale":{"domain":[0,200],"nice":false,"zero":false},"axis":null},"y2":{"field":"lo"},"detail":{"field":"r"}}},
{"data":{"name":"clim"},"transform":[{"filter":"datum.st=='har'"}],"mark":{"type":"line","color":"#222","strokeWidth":1},"encoding":{"x":{"field":"i","type":"quantitative","scale":{"domain":[0.5,12.5],"nice":false,"zero":false},"axis":null},"y":{"field":"pre","type":"quantitative","scale":{"domain":[0,200],"nice":false,"zero":false},"axis":null}}},
{"data":{"name":"clim"},"transform":[{"filter":"datum.st=='har'"}],"mark":{"type":"line","color":"#222","strokeWidth":1},"encoding":{"x":{"field":"i","type":"quantitative","scale":{"domain":[0.5,12.5],"nice":false,"zero":false},"axis":null},"y":{"field":"pet","type":"quantitative","scale":{"domain":[0,200],"nice":false,"zero":false},"axis":null}}},
{"data":{"name":"clim"},"transform":[{"filter":"datum.st=='har' && datum.tem != null"}],"mark":{"type":"point","shape":"triangle-up","filled":true,"size":34,"color":"#222","opacity":1},"encoding":{"x":{"field":"i","type":"quantitative","scale":{"domain":[0.5,12.5],"nice":false,"zero":false},"axis":null},"y":{"field":"pre","type":"quantitative","scale":{"domain":[0,200],"nice":false,"zero":false},"axis":null}}},
{"data":{"name":"clim"},"transform":[{"filter":"datum.st=='har' && datum.tem != null"}],"mark":{"type":"point","shape":"M-1,0L1,0M0,-1L0,1M-0.7,-0.7L0.7,0.7M-0.7,0.7L0.7,-0.7","filled":false,"size":36,"color":"#222","strokeWidth":1,"opacity":1},"encoding":{"x":{"field":"i","type":"quantitative","scale":{"domain":[0.5,12.5],"nice":false,"zero":false},"axis":null},"y":{"field":"pet","type":"quantitative","scale":{"domain":[0,200],"nice":false,"zero":false},"axis":null}}}
]},
{"data":{"name":"clim"},"transform":[{"filter":"datum.st=='har' && datum.tem != null"}],"mark":{"type":"point","shape":"circle","filled":true,"size":24,"color":"#222","opacity":1},"encoding":{"x":{"field":"i","type":"quantitative","scale":{"domain":[0.5,12.5],"nice":false,"zero":false},"axis":null},"y":{"field":"tem","type":"quantitative","scale":{"domain":[-25,25],"nice":false,"zero":false},"axis":{"orient":"right","values":[-25,-24,-23,-22,-21,-20,-19,-18,-17,-16,-15,-14,-13,-12,-11,-10,-9,-8,-7,-6,-5,-4,-3,-2,-1,0,1,2,3,4,5,6,7,8,9,10,11,12,13,14,15,16,17,18,19,20,21,22,23,24,25],"labelExpr":"datum.value % 5 == 0 ? '' + datum.value : ''","labelOverlap":false,"labelFontSize":9.5,"title":null}}}},
{"data":{"name":"stn"},"transform":[{"filter":"datum.st=='har'"}],"layer":[
{"mark":{"type":"text","align":"left","baseline":"top","fontSize":11.5,"lineHeight":13.5,"lineBreak":"\n"},"encoding":{"x":{"datum":0.76,"type":"quantitative","scale":{"domain":[0.5,12.5],"nice":false,"zero":false},"axis":null},"y":{"datum":1.008,"type":"quantitative","scale":{"domain":[0,1],"nice":false,"zero":false},"axis":null},"text":{"field":"left"}}},
{"mark":{"type":"text","align":"center","baseline":"top","fontSize":13.5},"encoding":{"x":{"datum":6.55,"type":"quantitative","scale":{"domain":[0.5,12.5],"nice":false,"zero":false},"axis":null},"y":{"datum":1.015,"type":"quantitative","scale":{"domain":[0,1],"nice":false,"zero":false},"axis":null},"text":{"field":"coord"}}},
{"mark":{"type":"text","align":"left","baseline":"top","fontSize":11.5,"lineHeight":13.5,"lineBreak":"\n"},"encoding":{"x":{"datum":9.88,"type":"quantitative","scale":{"domain":[0.5,12.5],"nice":false,"zero":false},"axis":null},"y":{"datum":1.008,"type":"quantitative","scale":{"domain":[0,1],"nice":false,"zero":false},"axis":null},"text":{"field":"right"}}}
]}
]
},
{
"width": 244, "height": 346,
"title": {"text": "Diagram 9.—Udic, thermic; Buenos Aires, Argentina.", "orient": "bottom", "offset": 8},
"resolve": {"scale": {"x": "independent", "y": "independent"}},
"layer": [
{"resolve": {"scale": {"x": "independent", "y": "independent"}}, "layer": [
{"data":{"name":"reg"},"transform":[{"filter":"indexof(['b1','b2'], datum.r) >= 0"}],"mark":{"type":"area","fill":{"expr":"hU25"},"opacity":1},"encoding":{"x":{"field":"i","type":"quantitative","scale":{"domain":[0.5,12.5],"nice":false,"zero":false},"axis":{"values":[1,2,3,4,5,6,7,8,9,10,11,12],"tickOffset":10.17,"labelOffset":-10.17,"labelExpr":"'' + ((datum.value + 5) % 12 + 1)","title":null}},"y":{"field":"up","type":"quantitative","scale":{"domain":[0,200],"nice":false,"zero":false},"axis":{"orient":"left","values":[0,10,20,30,40,50,60,70,80,90,100,110,120,130,140,150,160,170,180,190,200],"labelExpr":"datum.value % 50 == 0 ? '' + datum.value : ''","labelOverlap":false,"title":null}},"y2":{"field":"lo"},"detail":{"field":"r"}}},
{"data":{"name":"reg"},"transform":[{"filter":"indexof(['b1','b3'], datum.r) >= 0"}],"mark":{"type":"area","fill":{"expr":"hR25"},"opacity":1},"encoding":{"x":{"field":"i","type":"quantitative","scale":{"domain":[0.5,12.5],"nice":false,"zero":false},"axis":null},"y":{"field":"up","type":"quantitative","scale":{"domain":[0,200],"nice":false,"zero":false},"axis":null},"y2":{"field":"lo"},"detail":{"field":"r"}}},
{"data":{"name":"reg"},"transform":[{"filter":"indexof(['b4'], datum.r) >= 0"}],"mark":{"type":"area","fill":{"expr":"hU8"},"opacity":1},"encoding":{"x":{"field":"i","type":"quantitative","scale":{"domain":[0.5,12.5],"nice":false,"zero":false},"axis":null},"y":{"field":"up","type":"quantitative","scale":{"domain":[0,200],"nice":false,"zero":false},"axis":null},"y2":{"field":"lo"},"detail":{"field":"r"}}},
{"data":{"name":"reg"},"transform":[{"filter":"indexof(['b4'], datum.r) >= 0"}],"mark":{"type":"area","fill":{"expr":"hR8"},"opacity":1},"encoding":{"x":{"field":"i","type":"quantitative","scale":{"domain":[0.5,12.5],"nice":false,"zero":false},"axis":null},"y":{"field":"up","type":"quantitative","scale":{"domain":[0,200],"nice":false,"zero":false},"axis":null},"y2":{"field":"lo"},"detail":{"field":"r"}}},
{"data":{"name":"clim"},"transform":[{"filter":"datum.st=='ba'"}],"mark":{"type":"line","color":"#222","strokeWidth":1},"encoding":{"x":{"field":"i","type":"quantitative","scale":{"domain":[0.5,12.5],"nice":false,"zero":false},"axis":null},"y":{"field":"pre","type":"quantitative","scale":{"domain":[0,200],"nice":false,"zero":false},"axis":null}}},
{"data":{"name":"clim"},"transform":[{"filter":"datum.st=='ba'"}],"mark":{"type":"line","color":"#222","strokeWidth":1},"encoding":{"x":{"field":"i","type":"quantitative","scale":{"domain":[0.5,12.5],"nice":false,"zero":false},"axis":null},"y":{"field":"pet","type":"quantitative","scale":{"domain":[0,200],"nice":false,"zero":false},"axis":null}}},
{"data":{"name":"clim"},"transform":[{"filter":"datum.st=='ba' && datum.tem != null"}],"mark":{"type":"point","shape":"triangle-up","filled":true,"size":34,"color":"#222","opacity":1},"encoding":{"x":{"field":"i","type":"quantitative","scale":{"domain":[0.5,12.5],"nice":false,"zero":false},"axis":null},"y":{"field":"pre","type":"quantitative","scale":{"domain":[0,200],"nice":false,"zero":false},"axis":null}}},
{"data":{"name":"clim"},"transform":[{"filter":"datum.st=='ba' && datum.tem != null"}],"mark":{"type":"point","shape":"M-1,0L1,0M0,-1L0,1M-0.7,-0.7L0.7,0.7M-0.7,0.7L0.7,-0.7","filled":false,"size":36,"color":"#222","strokeWidth":1,"opacity":1},"encoding":{"x":{"field":"i","type":"quantitative","scale":{"domain":[0.5,12.5],"nice":false,"zero":false},"axis":null},"y":{"field":"pet","type":"quantitative","scale":{"domain":[0,200],"nice":false,"zero":false},"axis":null}}}
]},
{"data":{"name":"clim"},"transform":[{"filter":"datum.st=='ba' && datum.tem != null"}],"mark":{"type":"point","shape":"circle","filled":true,"size":24,"color":"#222","opacity":1},"encoding":{"x":{"field":"i","type":"quantitative","scale":{"domain":[0.5,12.5],"nice":false,"zero":false},"axis":null},"y":{"field":"tem","type":"quantitative","scale":{"domain":[0,25],"nice":false,"zero":false},"axis":{"orient":"right","values":[0,1,2,3,4,5,6,7,8,9,10,11,12,13,14,15,16,17,18,19,20,21,22,23,24,25],"labelExpr":"datum.value % 5 == 0 ? '' + datum.value : ''","labelOverlap":false,"labelFontSize":9.5,"title":null}}}},
{"data":{"name":"stn"},"transform":[{"filter":"datum.st=='ba'"}],"layer":[
{"mark":{"type":"text","align":"left","baseline":"top","fontSize":11.5,"lineHeight":13.5,"lineBreak":"\n"},"encoding":{"x":{"datum":0.6,"type":"quantitative","scale":{"domain":[0.5,12.5],"nice":false,"zero":false},"axis":null},"y":{"datum":1.008,"type":"quantitative","scale":{"domain":[0,1],"nice":false,"zero":false},"axis":null},"text":{"field":"left"}}},
{"mark":{"type":"text","align":"center","baseline":"top","fontSize":13.5},"encoding":{"x":{"datum":6.45,"type":"quantitative","scale":{"domain":[0.5,12.5],"nice":false,"zero":false},"axis":null},"y":{"datum":1.015,"type":"quantitative","scale":{"domain":[0,1],"nice":false,"zero":false},"axis":null},"text":{"field":"coord"}}},
{"mark":{"type":"text","align":"left","baseline":"top","fontSize":11.5,"lineHeight":13.5,"lineBreak":"\n"},"encoding":{"x":{"datum":9.75,"type":"quantitative","scale":{"domain":[0.5,12.5],"nice":false,"zero":false},"axis":null},"y":{"datum":1.008,"type":"quantitative","scale":{"domain":[0,1],"nice":false,"zero":false},"axis":null},"text":{"field":"right"}}}
]}
]
},
{
"width": 234, "height": 341,
"title": {"text": "Diagram 10.—Udic, mesic; Sapporo, Japan.", "orient": "bottom", "offset": 8},
"resolve": {"scale": {"x": "independent", "y": "independent"}},
"layer": [
{"resolve": {"scale": {"x": "independent", "y": "independent"}}, "layer": [
{"data":{"name":"reg"},"transform":[{"filter":"indexof(['s1','s2'], datum.r) >= 0"}],"mark":{"type":"area","fill":{"expr":"hU25"},"opacity":1},"encoding":{"x":{"field":"i","type":"quantitative","scale":{"domain":[0.5,12.5],"nice":false,"zero":false},"axis":{"values":[1,2,3,4,5,6,7,8,9,10,11,12],"tickOffset":9.75,"labelOffset":-9.75,"labelExpr":"'' + datum.value","title":null}},"y":{"field":"up","type":"quantitative","scale":{"domain":[0,200],"nice":false,"zero":false},"axis":{"orient":"left","values":[0,10,20,30,40,50,60,70,80,90,100,110,120,130,140,150,160,170,180,190,200],"labelExpr":"datum.value % 50 == 0 ? '' + datum.value : ''","labelOverlap":false,"title":null}},"y2":{"field":"lo"},"detail":{"field":"r"}}},
{"data":{"name":"reg"},"transform":[{"filter":"indexof(['s1'], datum.r) >= 0"}],"mark":{"type":"area","fill":{"expr":"hR25"},"opacity":1},"encoding":{"x":{"field":"i","type":"quantitative","scale":{"domain":[0.5,12.5],"nice":false,"zero":false},"axis":null},"y":{"field":"up","type":"quantitative","scale":{"domain":[0,200],"nice":false,"zero":false},"axis":null},"y2":{"field":"lo"},"detail":{"field":"r"}}},
{"data":{"name":"reg"},"transform":[{"filter":"indexof(['s3','s4'], datum.r) >= 0"}],"mark":{"type":"area","fill":{"expr":"hR16"},"opacity":1},"encoding":{"x":{"field":"i","type":"quantitative","scale":{"domain":[0.5,12.5],"nice":false,"zero":false},"axis":null},"y":{"field":"up","type":"quantitative","scale":{"domain":[0,200],"nice":false,"zero":false},"axis":null},"y2":{"field":"lo"},"detail":{"field":"r"}}},
{"data":{"name":"reg"},"transform":[{"filter":"indexof(['s4'], datum.r) >= 0"}],"mark":{"type":"area","fill":{"expr":"hU16"},"opacity":1},"encoding":{"x":{"field":"i","type":"quantitative","scale":{"domain":[0.5,12.5],"nice":false,"zero":false},"axis":null},"y":{"field":"up","type":"quantitative","scale":{"domain":[0,200],"nice":false,"zero":false},"axis":null},"y2":{"field":"lo"},"detail":{"field":"r"}}},
{"data":{"name":"clim"},"transform":[{"filter":"datum.st=='sap'"}],"mark":{"type":"line","color":"#222","strokeWidth":1},"encoding":{"x":{"field":"i","type":"quantitative","scale":{"domain":[0.5,12.5],"nice":false,"zero":false},"axis":null},"y":{"field":"pre","type":"quantitative","scale":{"domain":[0,200],"nice":false,"zero":false},"axis":null}}},
{"data":{"name":"clim"},"transform":[{"filter":"datum.st=='sap'"}],"mark":{"type":"line","color":"#222","strokeWidth":1},"encoding":{"x":{"field":"i","type":"quantitative","scale":{"domain":[0.5,12.5],"nice":false,"zero":false},"axis":null},"y":{"field":"pet","type":"quantitative","scale":{"domain":[0,200],"nice":false,"zero":false},"axis":null}}},
{"data":{"name":"clim"},"transform":[{"filter":"datum.st=='sap' && datum.tem != null"}],"mark":{"type":"point","shape":"triangle-up","filled":true,"size":34,"color":"#222","opacity":1},"encoding":{"x":{"field":"i","type":"quantitative","scale":{"domain":[0.5,12.5],"nice":false,"zero":false},"axis":null},"y":{"field":"pre","type":"quantitative","scale":{"domain":[0,200],"nice":false,"zero":false},"axis":null}}},
{"data":{"name":"clim"},"transform":[{"filter":"datum.st=='sap' && datum.tem != null"}],"mark":{"type":"point","shape":"M-1,0L1,0M0,-1L0,1M-0.7,-0.7L0.7,0.7M-0.7,0.7L0.7,-0.7","filled":false,"size":36,"color":"#222","strokeWidth":1,"opacity":1},"encoding":{"x":{"field":"i","type":"quantitative","scale":{"domain":[0.5,12.5],"nice":false,"zero":false},"axis":null},"y":{"field":"pet","type":"quantitative","scale":{"domain":[0,200],"nice":false,"zero":false},"axis":null}}}
]},
{"data":{"name":"clim"},"transform":[{"filter":"datum.st=='sap' && datum.tem != null"}],"mark":{"type":"point","shape":"circle","filled":true,"size":24,"color":"#222","opacity":1},"encoding":{"x":{"field":"i","type":"quantitative","scale":{"domain":[0.5,12.5],"nice":false,"zero":false},"axis":null},"y":{"field":"tem","type":"quantitative","scale":{"domain":[-15,25],"nice":false,"zero":false},"axis":{"orient":"right","values":[-15,-14,-13,-12,-11,-10,-9,-8,-7,-6,-5,-4,-3,-2,-1,0,1,2,3,4,5,6,7,8,9,10,11,12,13,14,15,16,17,18,19,20,21,22,23,24,25],"labelExpr":"datum.value % 5 == 0 ? '' + datum.value : ''","labelOverlap":false,"labelFontSize":9.5,"title":"TEMPERATURE [°C]","titleFont":"Liberation Sans","titleFontSize":8.5,"titleFontWeight":"normal","titleX":21,"titleY":180,"titleAngle":270,"titleAlign":"center","titleBaseline":"middle"}}}},
{"data":{"name":"stn"},"transform":[{"filter":"datum.st=='sap'"}],"layer":[
{"mark":{"type":"text","align":"left","baseline":"top","fontSize":11.5,"lineHeight":13.5,"lineBreak":"\n"},"encoding":{"x":{"datum":0.65,"type":"quantitative","scale":{"domain":[0.5,12.5],"nice":false,"zero":false},"axis":null},"y":{"datum":1.008,"type":"quantitative","scale":{"domain":[0,1],"nice":false,"zero":false},"axis":null},"text":{"field":"left"}}},
{"mark":{"type":"text","align":"center","baseline":"top","fontSize":13.5},"encoding":{"x":{"datum":6.55,"type":"quantitative","scale":{"domain":[0.5,12.5],"nice":false,"zero":false},"axis":null},"y":{"datum":1.015,"type":"quantitative","scale":{"domain":[0,1],"nice":false,"zero":false},"axis":null},"text":{"field":"coord"}}},
{"mark":{"type":"text","align":"left","baseline":"top","fontSize":11.5,"lineHeight":13.5,"lineBreak":"\n"},"encoding":{"x":{"datum":9.95,"type":"quantitative","scale":{"domain":[0.5,12.5],"nice":false,"zero":false},"axis":null},"y":{"datum":1.008,"type":"quantitative","scale":{"domain":[0,1],"nice":false,"zero":false},"axis":null},"text":{"field":"right"}}}
]}
]
}
],
"spacing": 59,
"bounds": "flush"
}
],
"config": {
"view": {"stroke": null},
"font": "Liberation Serif",
"axis": {"domainColor":"#222","tickColor":"#222","labelColor":"#222","titleColor":"#222","labelFont":"Liberation Serif","labelFontWeight":"bold","labelFontSize":10.5,"tickSize":3,"grid":false,"labelOverlap":false,"labelFlush":false,"domainWidth":1,"tickWidth":1,"labelPadding":2},
"axisX": {"labelFontSize": 11, "tickSize": 4},
"title": {"font":"Liberation Serif","fontSize":9.6,"fontWeight":"bold","color":"#222"},
"text": {"font":"Liberation Serif","color":"#222"}
}
}
